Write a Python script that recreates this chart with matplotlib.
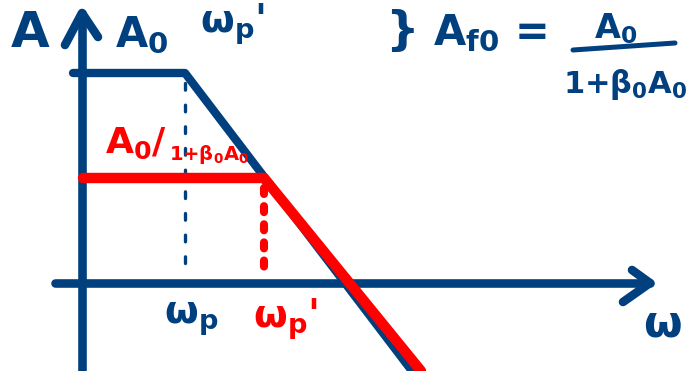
import matplotlib
matplotlib.use("Agg")
import matplotlib.pyplot as plt

plt.rcParams["font.family"] = ["DejaVu Sans"]
plt.rcParams["mathtext.default"] = "regular"

# Sketch of an open-loop vs. closed-loop gain response (units: arbitrary)
A0 = 21.0            # open-loop low-frequency gain
Af0 = 10.5           # closed-loop low-frequency gain
wp = 10.3            # open-loop pole
wp_prime = 18.2      # closed-loop pole
w_floor = -8.8       # lowest drawn gain (bottom of the sheet)

open_w = [-0.9, wp, 33.0]
open_A = [A0, A0, w_floor]
closed_w = [0.1, wp_prime, 33.9]
closed_A = [Af0, Af0, w_floor]

axis_w = [-2.7, 56.8]
axis_A = [-9.5, 27.0]

BLUE = "#01407f"
RED = "#ff0000"

fig = plt.figure(figsize=(6.95, 3.71), dpi=100)
ax = fig.add_axes([0, 0, 1, 1])
ax.set_xlim(-8.2, 61.3)
ax.set_ylim(-8.8, 28.3)
ax.axis("off")

lw_axis = 6.2
cap = dict(solid_capstyle="round", solid_joinstyle="round")

# axes with hand-drawn arrowheads
ax.plot(axis_w, [0, 0], color=BLUE, lw=lw_axis, **cap)
ax.plot([0, 0], axis_A, color=BLUE, lw=lw_axis, **cap)
ax.plot([axis_w[1] - 1.8, axis_w[1], axis_w[1] - 2.7],
        [1.3, 0, -1.9], color=BLUE, lw=lw_axis, **cap)
ax.plot([-1.7, 0, 1.6],
        [axis_A[1] - 3.2, axis_A[1], axis_A[1] - 2.4], color=BLUE, lw=lw_axis, **cap)

# open-loop response
ax.plot(open_w, open_A, color=BLUE, lw=6.0, **cap, zorder=3)
ax.plot([wp, wp], [A0 - 1.0, 0.8], color=BLUE, lw=2.4,
        linestyle=(0, (2.0, 4.5)), dash_capstyle="round", zorder=2)

# closed-loop response
ax.plot(closed_w, closed_A, color=RED, lw=7.5, **cap, zorder=4)
ax.plot([wp_prime, wp_prime], [Af0 - 1.0, 0.9], color=RED, lw=5.8,
        linestyle=(0, (0.75, 1.5)), dash_capstyle="round", zorder=4)

tk = dict(color=BLUE, fontweight="bold", ha="center", va="center")
ax.text(-5.2, 25.0, "A", fontsize=36, **tk)
ax.text(6.0, 24.8, "A$_0$", fontsize=30, **tk)
ax.text(15.0, 25.9, "ω$_p$'", fontsize=28, **tk)
ax.text(10.9, -3.6, "ω$_p$", fontsize=28, **tk)
ax.text(58.0, -4.1, "ω", fontsize=32, **tk)

ax.text(20.3, -3.6, "ω$_p$'", fontsize=28, color=RED, fontweight="bold",
        ha="center", va="center")
ax.text(5.4, 14.0, "A$_0$/", fontsize=26, color=RED, fontweight="bold",
        ha="center", va="center")
ax.text(8.7, 12.9, "1+β$_0$A$_0$", fontsize=14, color=RED, fontweight="bold",
        ha="left", va="center")

# closed-loop gain formula
ax.text(32.0, 25.2, "}", fontsize=34, **tk)
ax.text(40.8, 25.0, "A$_{f0}$ =", fontsize=30, **tk)
ax.text(53.4, 25.4, "A$_0$", fontsize=24, **tk)
ax.plot([49.1, 59.3], [23.3, 24.0], color=BLUE, lw=3.6, **cap)
ax.text(48.1, 19.9, "1+β$_0$A$_0$", fontsize=22, color=BLUE, fontweight="bold",
        ha="left", va="center")

fig.savefig("out.png", dpi=100)
